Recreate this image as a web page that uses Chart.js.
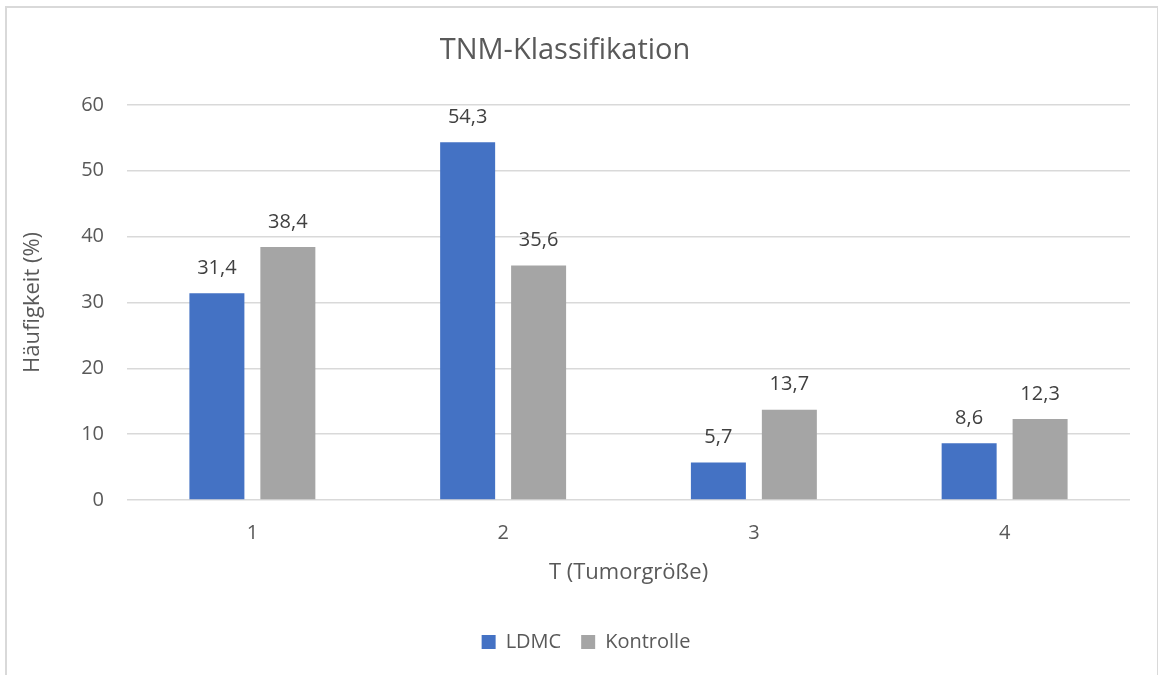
<!DOCTYPE html>
<html>
<head>
<meta charset="utf-8">
<script src="https://cdn.jsdelivr.net/npm/chart.js@4"></script>
<style>
  body { margin: 0; background: #fff; }
  #wrap { position: relative; width: 1158px; height: 675px; }
  #frame { position: absolute; left: 5px; top: 6px; width: 1150px; height: 700px;
           border: 2px solid #d9d9d9; border-bottom: none; pointer-events: none; }
</style>
</head>
<body>
<div id="wrap">
  <canvas id="miGrafico" width="1158" height="675"></canvas>
  <div id="frame"></div>
</div>
<script>
// daten
const kategorien = ['1', '2', '3', '4'];
const ldmc = [31.4, 54.3, 5.7, 8.6];
const kontrolle = [38.4, 35.6, 13.7, 12.3];
const yTicks = [0, 10, 20, 30, 40, 50, 60];

const schrift = '"Open Sans", Lato, sans-serif';
const grau = '#595959';

// zahlen ueber den balken
const werteLabels = {
    id: 'werteLabels',
    afterDatasetsDraw(chart) {
        const ctx = chart.ctx;
        ctx.save();
        ctx.font = '20px ' + schrift;
        ctx.fillStyle = '#404040';
        ctx.textAlign = 'center';
        ctx.textBaseline = 'middle';
        chart.data.datasets.forEach((ds, i) => {
            chart.getDatasetMeta(i).data.forEach((bar, j) => {
                const txt = ds.data[j].toFixed(1).replace('.', ',');
                ctx.fillText(txt, bar.x, bar.y - 25);
            });
        });
        ctx.restore();
    }
};

// legende etwas nach rechts schieben (wie im original)
const legendeVersatz = {
    id: 'legendeVersatz',
    afterLayout(chart) {
        if (chart.legend) {
            chart.legend.left += 21;
            chart.legend.right += 21;
        }
    }
};

window.onload = function () {
    var ctx = document.getElementById('miGrafico').getContext('2d');
    new Chart(ctx, {
        type: 'bar',
        data: {
            labels: kategorien,
            datasets: [{
                label: 'LDMC',
                data: ldmc,
                backgroundColor: '#4472C4'
            }, {
                label: 'Kontrolle',
                data: kontrolle,
                backgroundColor: '#A5A5A5'
            }]
        },
        options: {
            responsive: false,
            animation: false,
            categoryPercentage: 0.566,
            barPercentage: 0.775,
            layout: { padding: { left: 0, right: 28, bottom: 13 } },
            plugins: {
                title: {
                    display: true,
                    text: 'TNM-Klassifikation',
                    color: grau,
                    font: { family: schrift, size: 29, weight: 'normal' },
                    padding: { top: 33, bottom: 37 }
                },
                legend: {
                    position: 'bottom',
                    labels: {
                        color: grau,
                        font: { family: schrift, size: 20 },
                        boxWidth: 14,
                        boxHeight: 14,
                        padding: 20
                    }
                },
                tooltip: { enabled: false }
            },
            scales: {
                x: {
                    grid: { display: false },
                    border: { display: false },
                    ticks: { color: grau, font: { family: schrift, size: 20 }, padding: 13 },
                    title: {
                        display: true,
                        text: 'T (Tumorgröße)',
                        color: grau,
                        font: { family: schrift, size: 22 },
                        padding: { top: 0, bottom: 26 }
                    },
                    afterFit: s => { s.height = 112; }
                },
                y: {
                    min: 0,
                    max: 60,
                    afterBuildTicks: s => { s.ticks = yTicks.map(v => ({ value: v })); },
                    grid: { color: '#d9d9d9', lineWidth: 1.5, drawTicks: false },
                    border: { display: false },
                    ticks: { color: grau, font: { family: schrift, size: 20 }, padding: 23 },
                    title: {
                        display: true,
                        text: 'Häufigkeit (%)',
                        color: grau,
                        font: { family: schrift, size: 22 },
                        padding: { top: 20, bottom: 0 }
                    },
                    afterFit: s => { s.width = 127; }
                }
            }
        },
        plugins: [werteLabels, legendeVersatz]
    });
};
</script>
</body>
</html>
